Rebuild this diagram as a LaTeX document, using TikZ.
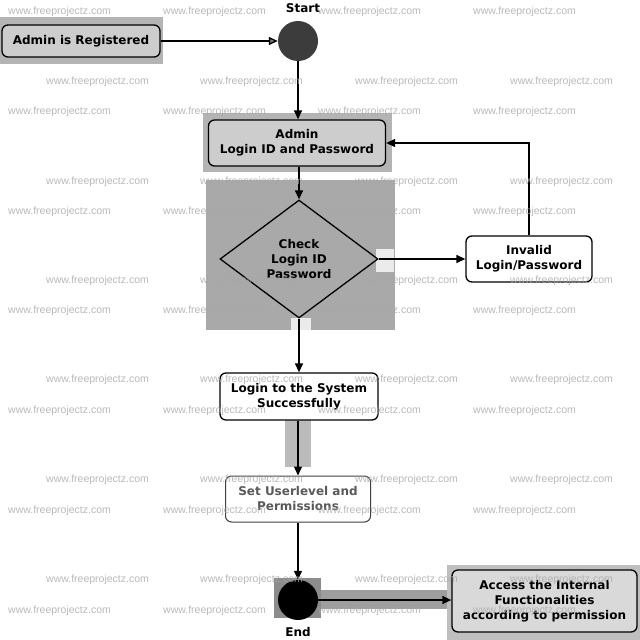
\documentclass[tikz,border=0pt]{standalone}
\usepackage{fontspec}
\setmainfont{DejaVu Sans}
\newfontfamily\wmfont{Liberation Sans}
\usetikzlibrary{arrows.meta,shapes.geometric}
\definecolor{shadowA}{HTML}{B4B4B4}
\definecolor{boxfill}{HTML}{CDCDCD}
\definecolor{diafill}{HTML}{A9A9A9}
\definecolor{startfill}{HTML}{3C3C3C}
\definecolor{wm}{HTML}{A8A8A8}
\tikzset{
  act/.style={draw=black, line width=1.3pt, rounded corners=6pt, align=center,
    font=\bfseries\fontsize{12}{15}\selectfont, inner sep=0pt},
  flow/.style={line width=1.3pt, -{Triangle[length=9pt,width=8pt]}},
  wmark/.style={font=\wmfont\fontsize{10.5}{11}\selectfont, text=wm, anchor=west, inner sep=0pt, opacity=0.8},
  lbl/.style={font=\bfseries\fontsize{12}{15}\selectfont, inner sep=0pt}
}
\begin{document}
\begin{tikzpicture}[x=1pt,y=-1pt]
\useasboundingbox[fill=white] (0,0) rectangle (640,640);
% shadow / background rectangles
\fill[shadowA] (0,17) rectangle (163,64);
\fill[shadowA] (203,113) rectangle (392,172);
\fill[diafill] (206,180) rectangle (395,330);
\fill[white!92!black] (376,249) rectangle (394,272);
\fill[white!92!black] (291,318) rectangle (311,330);
\fill[shadowA!90!white] (285,420) rectangle (311,467);
\fill[black!45] (274,578) rectangle (321,618);
\fill[black!38] (321,590) rectangle (452,609);
\fill[shadowA!85!white] (447,565) rectangle (640,640);
% nodes
\node[lbl] (starttxt) at (303,8) {Start};
\node[circle, fill=startfill, minimum size=40pt, inner sep=0pt] (start) at (298,41) {};
\node[act, fill=boxfill, minimum width=158pt, minimum height=32pt] (reg) at (81,41) {Admin is Registered};
\node[act, fill=boxfill, minimum width=177pt, minimum height=46pt] (admin) at (297,143) {Admin\\Login ID and Password};
\node[diamond, draw=black, line width=1.3pt, fill=diafill, aspect=1.34, minimum width=158pt, minimum height=118pt, inner sep=0pt, align=center, font=\bfseries\fontsize{12}{15}\selectfont] (check) at (299,259) {Check\\Login ID\\Password};
\node[act, fill=white, minimum width=126pt, minimum height=46pt] (invalid) at (529,259) {Invalid\\Login/Password};
\node[act, fill=white, minimum width=158pt, minimum height=47pt] (login) at (299,396.5) {Login to the System\\Successfully};
\node[act, draw=black!75, line width=1pt, fill=white, text=black!65, minimum width=145pt, minimum height=46pt] (set) at (298,499) {Set Userlevel and\\Permissions};
\node[circle, fill=black, minimum size=40pt, inner sep=0pt] (end) at (298,600) {};
\node[lbl] (endtxt) at (298,632) {End};
\node[act, fill=white!85!black, minimum width=185pt, minimum height=62pt] (access) at (544.5,601) {Access the Internal\\Functionalities\\according to permission};
% connectors
\draw[flow, -{Triangle[length=9pt,width=8pt,fill=black!55]}] (reg.east) -- (start.west);
\draw[flow] (start.south) -- (start.south |- admin.north);
\draw[flow] (check.north |- admin.south) -- (check.north);
\draw[flow] (check.east) -- (invalid.west);
\draw[flow] (invalid.north) |- (admin.east);
\draw[flow] (check.south) -- (check.south |- login.north);
\draw[flow] (set.north |- login.south) -- (set.north);
\draw[flow] (set.south) -- (set.south |- end.north);
\draw[flow] (end.east) -- (end.east -| access.west);
% watermarks
\foreach \y in {12,112,212,311,411,511,611}{
  \foreach \x in {8,163,318,473}{
    \node[wmark] at (\x,\y) {www.freeprojectz.com};
  }
}
\foreach \y in {82,182,281,380,480,580}{
  \foreach \x in {46,200,355,510}{
    \node[wmark] at (\x,\y) {www.freeprojectz.com};
  }
}
\end{tikzpicture}
\end{document}
